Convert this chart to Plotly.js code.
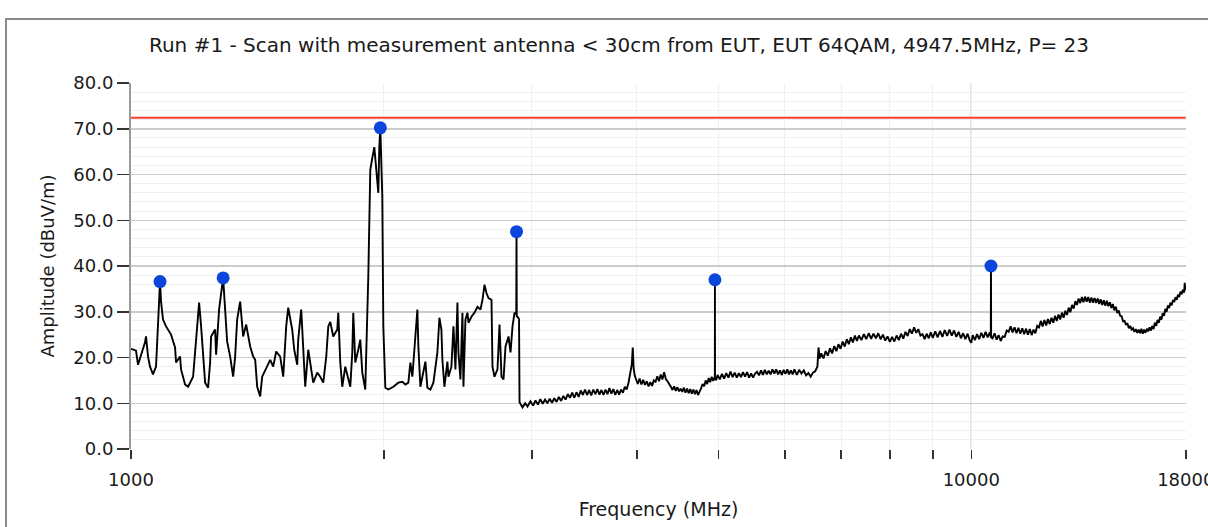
<!DOCTYPE html>
<html>
<head>
<meta charset="utf-8">
<script src="https://cdn.plot.ly/plotly-3.0.1.min.js"></script>
<style>
  html, body { margin: 0; padding: 0; background: #ffffff; overflow: hidden; }
  #frame { position: absolute; left: 5px; top: 18px; width: 1300px; height: 600px;
           border-left: 2px solid #8a8a8a; border-top: 2px solid #8a8a8a; }
  #chart { position: absolute; left: 0; top: 0; width: 1208px; height: 527px; }
</style>
</head>
<body>
<div id="frame"></div>
<div id="chart"></div>
<script>
// ---- Data ----
const chartTitle = "Run #1 - Scan with measurement antenna < 30cm from EUT, EUT 64QAM, 4947.5MHz, P= 23";
const xTitle = "Frequency (MHz)";
const yTitle = "Amplitude (dBuV/m)";

const limitLevel = 72.4;   // dBuV/m, red limit line

// spectrum trace below 2.9 GHz (frequency in MHz / amplitude in dBuV/m)
const freqLow = [
 1000,1013.8,1019.4,1027.8,1039.2,1042.0,1047.8,1053.5,1062.2,1071.0,1076.9,1082.8,1085.8,1091.7,1100.8,1116.0,
 1128.3,1131.4,1143.9,1147.0,1159.7,1169.3,1185.5,1195.3,1205.2,1211.8,1218.5,1225.2,1235.3,1242.1,1245.5,1259.2,
 1262.7,1273.1,1287.2,1294.3,1301.4,1312.2,1323.0,1330.3,1337.6,1348.7,1359.8,1371.1,1386.2,1397.7,1405.4,1413.1,
 1424.8,1432.6,1452.4,1464.4,1476.5,1488.7,1505.1,1517.6,1530.1,1538.6,1555.5,1564.1,1577.0,1581.3,1594.4,1603.1,
 1611.9,1625.3,1634.2,1647.7,1665.9,1679.7,1693.6,1707.6,1717.0,1726.4,1740.7,1759.9,1764.7,1774.4,1784.2,1798.9,
 1823.8,1833.8,1838.8,1848.9,1864.2,1874.5,1884.8,1900.3,1916.1,1926.6,1937.2,1947.9,1958.6,1969.4,1974.8,1980.2,
 1991.1,1996.6,2007.6,2024.2,2052.2,2080.6,2103.5,2120.9,2138.4,2150.2,2162.0,2173.9,2191.9,2197.9,2210.0,2222.2,
 2240.6,2252.9,2271.5,2290.3,2315.5,2328.3,2341.1,2347.5,2360.4,2379.9,2386.5,2406.2,2419.5,2432.8,2446.2,2452.9,
 2466.4,2480.0,2486.8,2500.5,2514.3,2521.2,2542.0,2563.1,2584.3,2605.6,2620.0,2634.4,2648.9,2663.5,2685.5,2692.8,
 2707.7,2730.0,2745.1,2760.2,2775.4,2790.7,2813.8,2829.3,2844.8,2860.5,2874.0,2876.2,2878.0,2884.1,2892.0,2896.0
];
const ampLow = [
 21.9,21.5,18.4,20.6,23.3,24.6,20.2,18.0,16.3,18.0,27.8,36.6,32.2,28.3,26.8,25.0,
 22.2,18.9,20.2,17.4,14.1,13.6,15.8,23.3,32.0,26.8,20.2,14.5,13.4,18.9,24.6,26.1,
 20.6,30.5,37.4,29.8,23.5,20.2,15.8,20.2,28.3,32.2,24.6,27.2,22.4,20.2,19.5,13.6,
 11.5,15.8,18.0,19.5,18.0,21.3,20.2,15.8,26.8,30.9,26.1,21.7,18.4,23.9,30.5,23.3,
 13.6,21.7,18.9,14.5,16.7,15.8,14.5,20.2,26.8,27.8,24.6,26.1,29.8,18.9,13.6,18.0,
 13.6,21.1,29.8,18.9,21.7,23.9,16.7,13.0,37.7,61.0,63.6,66.0,61.0,56.0,66.0,70.2,
 55.1,26.8,13.4,13.0,13.6,14.5,14.7,14.1,14.5,18.9,15.8,21.7,30.5,22.4,13.6,15.8,
 19.1,13.4,13.0,14.5,21.1,28.7,26.1,19.5,13.6,19.1,15.8,18.0,26.8,17.4,32.0,21.1,
 15.2,29.8,13.6,28.3,29.8,27.6,28.9,29.8,31.1,30.5,32.6,35.9,34.1,33.0,32.6,18.0,
 15.8,17.4,27.2,15.8,15.2,22.4,24.6,21.1,26.8,29.8,29.5,47.5,29.0,28.9,28.7,28.4
];

// spectrum trace from 2.9 GHz to 18 GHz (rows of 10)
const freqHigh = [
 2900,2924,2945,2964,2988,3010,3030,3050,3070,3090,
 3110,3130,3150,3170,3190,3210,3230,3250,3270,3290,
 3310,3330,3350,3370,3390,3410,3430,3450,3470,3490,
 3510,3530,3550,3570,3590,3610,3630,3650,3670,3690,
 3710,3730,3750,3770,3790,3810,3830,3850,3870,3890,
 3910,3930,3945,3955,3965,3977,3990,4010,4030,4050,
 4070,4090,4110,4130,4150,4170,4190,4210,4230,4250,
 4270,4290,4310,4330,4350,4370,4390,4410,4430,4450,
 4470,4490,4510,4530,4550,4570,4590,4610,4630,4650,
 4670,4690,4710,4730,4750,4770,4790,4810,4830,4850,
 4870,4890,4910,4930,4953,4954,4955,4970,4990,5020,
 5050,5080,5110,5140,5170,5200,5230,5260,5290,5320,
 5350,5380,5410,5440,5470,5500,5530,5560,5590,5620,
 5650,5680,5710,5740,5770,5800,5830,5860,5890,5920,
 5950,5980,6010,6040,6070,6100,6130,6160,6200,6240,
 6280,6320,6360,6400,6440,6480,6520,6560,6580,6600,
 6630,6670,6710,6750,6790,6830,6870,6910,6950,6990,
 7030,7070,7110,7150,7190,7230,7270,7310,7350,7400,
 7450,7500,7550,7600,7650,7700,7750,7800,7850,7900,
 7950,8000,8050,8100,8150,8200,8250,8300,8350,8400,
 8450,8500,8550,8600,8650,8700,8750,8800,8850,8900,
 8950,9000,9060,9120,9180,9240,9300,9360,9420,9480,
 9540,9600,9660,9720,9780,9840,9900,9960,10000,10040,
 10100,10160,10220,10280,10340,10400,10460,10520,10550,10555,
 10560,10600,10660,10720,10780,10840,10900,10960,11020,11080,
 11140,11200,11260,11320,11380,11440,11500,11560,11620,11680,
 11740,11800,11860,11920,11980,12040,12100,12160,12220,12280,
 12340,12400,12460,12520,12580,12640,12700,12760,12820,12880,
 12940,13000,13060,13120,13180,13240,13300,13360,13420,13480,
 13540,13600,13660,13720,13780,13840,13900,13960,14020,14080,
 14140,14200,14260,14320,14380,14440,14500,14560,14620,14680,
 14740,14800,14860,14920,14980,15040,15100,15160,15220,15280,
 15340,15400,15460,15520,15580,15640,15700,15760,15820,15880,
 15940,16000,16060,16120,16180,16240,16300,16360,16420,16480,
 16540,16600,16660,16720,16780,16840,16900,16960,17020,17080,
 17140,17200,17260,17320,17380,17440,17500,17560,17620,17680,
 17740,17800,17860,17920,17950,17980,18000
];
const ampHigh = [
 10.2,9.1,10.0,9.3,10.4,9.5,10.6,9.7,10.9,9.9,
 10.8,10.0,11.0,10.1,11.1,10.3,11.4,10.5,11.6,10.8,
 12.0,11.2,12.3,11.2,12.4,11.4,12.8,11.8,13.0,11.8,
 12.9,11.7,13.0,12.0,13.1,11.9,12.9,11.8,13.0,12.0,
 13.3,12.1,13.1,11.8,12.9,11.9,13.0,12.3,13.6,13.0,
 14.6,16.9,18.5,22.2,17.5,16.0,15.2,14.2,15.4,14.1,
 15.1,14.0,14.8,13.7,14.6,13.8,15.0,14.7,15.9,14.8,
 16.3,15.2,16.8,15.3,14.8,14.0,13.6,12.9,13.7,12.7,
 13.5,12.6,13.2,12.5,13.4,12.3,13.2,12.2,13.1,12.1,
 13.0,12.0,12.9,11.8,12.8,13.3,14.2,13.7,15.0,14.2,
 15.5,14.6,15.8,14.9,15.8,37.0,15.6,15.0,16.2,15.2,
 16.4,15.4,16.6,15.6,16.9,15.7,16.7,15.6,16.6,15.7,
 16.8,15.8,16.8,15.6,16.5,15.6,16.5,16.9,16.1,17.2,
 16.2,17.3,16.3,17.1,16.3,17.4,16.5,17.4,16.3,17.2,
 16.2,17.3,16.4,17.4,16.3,17.2,16.3,17.4,16.2,17.3,
 16.5,17.2,16.1,16.6,15.8,16.7,17.0,18.0,22.2,19.8,
 20.9,19.8,21.4,20.4,22.0,20.9,22.5,21.4,22.9,21.9,
 23.5,22.4,24.0,22.9,24.4,23.3,24.8,23.6,24.8,23.8,
 25.1,24.0,25.3,24.1,25.2,24.2,25.3,24.0,25.0,23.7,
 24.6,23.4,24.5,23.5,24.8,23.8,25.2,24.1,25.6,24.7,
 26.2,25.2,26.6,25.4,26.2,24.8,25.1,24.0,25.2,24.2,
 25.5,24.3,25.7,24.4,25.8,24.5,26.0,24.7,26.1,24.8,
 25.9,24.5,25.6,24.2,25.3,24.0,25.2,23.7,23.2,24.9,
 23.8,25.1,24.0,25.4,24.3,25.6,24.4,25.5,24.6,40.0,
 24.4,24.2,25.3,23.9,24.9,23.6,24.6,24.5,25.9,25.6,
 26.8,25.5,26.6,25.3,26.5,25.2,26.4,25.1,26.3,25.0,
 26.2,24.9,26.1,25.3,26.9,26.6,28.0,26.8,28.2,27.0,
 28.4,27.3,28.7,27.6,29.1,28.0,29.4,28.3,29.8,28.7,
 30.2,29.3,30.9,29.9,31.5,30.7,32.3,31.5,32.9,31.9,
 33.2,32.1,33.3,32.2,33.2,32.0,33.1,32.0,33.0,31.9,
 32.9,31.7,32.7,31.5,32.5,31.3,32.4,31.2,32.1,30.8,
 31.7,30.3,31.1,29.7,30.3,29.1,29.0,27.9,28.0,27.1,
 27.5,26.4,26.9,26.1,26.4,25.6,26.2,25.4,26.1,25.3,
 26.3,25.2,26.1,25.4,26.3,25.7,26.6,25.9,26.9,26.2,
 27.6,26.9,28.2,27.6,28.9,28.3,29.7,29.1,30.6,30.0,
 31.4,30.8,32.0,31.4,32.6,32.1,33.2,32.6,33.7,33.2,
 34.4,33.8,34.8,34.2,36.3,34.7,35.4
];

// detected peaks (blue markers)
const peakFreq = [1082.8, 1287.2, 1980.2, 2876.2, 4954, 10555];
const peakAmp  = [36.6, 37.4, 70.2, 47.5, 37.0, 40.0];

// x-axis ticks
const xTickVals = [1000, 2000, 3000, 4000, 5000, 6000, 7000, 8000, 9000, 10000, 18000];
const xTickText = ["1000", "", "", "", "", "", "", "", "", "10000", "18000"];
const xMin = 1000, xMax = 18000;

// ---- Plot ----
const FONT = "DejaVu Sans, Verdana, sans-serif";
const freqMHz = freqLow.concat(freqHigh);
const amplitude = ampLow.concat(ampHigh);

const traces = [
  {
    x: [xMin, xMax], y: [limitLevel, limitLevel],
    mode: "lines", line: { color: "#ff3c2e", width: 2 },
    hoverinfo: "skip", showlegend: false
  },
  {
    x: freqMHz, y: amplitude,
    mode: "lines", line: { color: "#000000", width: 1.9 },
    showlegend: false
  },
  {
    x: peakFreq, y: peakAmp,
    mode: "markers", marker: { color: "#0a46dc", size: 13, symbol: "circle" },
    showlegend: false
  }
];

const layout = {
  width: 1208, height: 527,
  paper_bgcolor: "rgba(0,0,0,0)",
  plot_bgcolor: "#ffffff",
  margin: { l: 131, r: 22, t: 83, b: 78, pad: 0 },
  font: { family: FONT, color: "#1a1a1a", size: 18 },
  title: {
    text: chartTitle,
    font: { family: FONT, size: 20, color: "#1a1a1a" },
    xref: "container", yref: "container",
    x: 619 / 1208, xanchor: "center",
    y: 1 - 45 / 527, yanchor: "middle"
  },
  xaxis: {
    type: "log",
    range: [Math.log10(xMin), Math.log10(xMax) + 0.0003],
    tickmode: "array", tickvals: xTickVals, ticktext: xTickText,
    ticks: "outside", ticklen: 9, tickwidth: 1.5, tickcolor: "#333",
    ticklabelstandoff: 5, ticklabeloverflow: "allow",
    showline: false, zeroline: false,
    showgrid: true, gridcolor: "#f0f0f0", gridwidth: 1,
    tickfont: { family: FONT, size: 18, color: "#1a1a1a" },
    title: { text: xTitle, font: { family: FONT, size: 19, color: "#1a1a1a" }, standoff: 14 },
    automargin: false
  },
  yaxis: {
    range: [0, 80], dtick: 10, tick0: 0, tickformat: ".1f",
    ticks: "outside", ticklen: 12, tickwidth: 1.5, tickcolor: "#333",
    showline: true, linecolor: "#9a9a9a", linewidth: 2,
    zeroline: false,
    showgrid: true, gridcolor: "#cccccc", gridwidth: 1.5,
    minor: { dtick: 2, showgrid: true, gridcolor: "#f0f0f0", gridwidth: 1, ticks: "" },
    tickfont: { family: FONT, size: 18, color: "#1a1a1a" },
    title: { text: yTitle, font: { family: FONT, size: 18, color: "#1a1a1a" }, standoff: 14 },
    automargin: false
  },
  shapes: [
    { type: "line", xref: "x", yref: "paper", x0: 10000, x1: 10000, y0: 0, y1: 1,
      line: { color: "#c8c8c8", width: 1.5 }, layer: "below" }
  ]
};

Plotly.newPlot("chart", traces, layout, { displayModeBar: false, staticPlot: true });
</script>
</body>
</html>
